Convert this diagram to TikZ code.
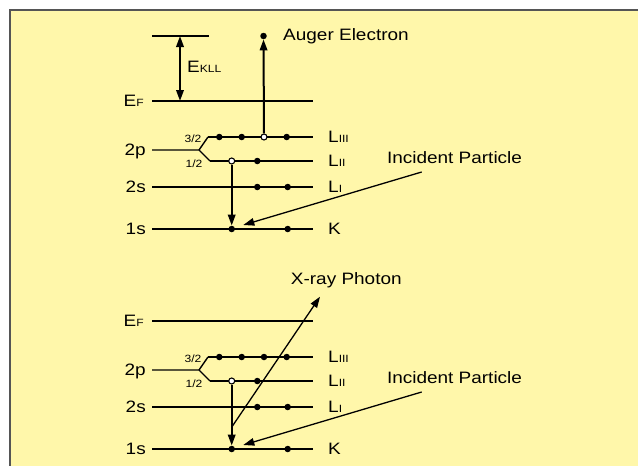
\documentclass[tikz,border=0pt]{standalone}
\usepackage{fontspec}
\setmainfont{Liberation Sans}
\usetikzlibrary{arrows.meta}
\definecolor{bgyellow}{RGB}{255,247,170}
\definecolor{framegray}{RGB}{85,85,85}
\newcommand\smf{\fontsize{10.5}{12}\selectfont}
\tikzset{
 lvl/.style={line width=2pt},
 thinlvl/.style={line width=1.4pt},
 dotf/.style={circle,fill=black,inner sep=0pt,minimum size=6.5pt},
 doth/.style={circle,fill=white,draw=black,line width=1.1pt,inner sep=0pt,minimum size=6pt},
 arr/.style={line width=2pt,-{Triangle[length=11pt,width=7.5pt]}},
 thinarr/.style={line width=1.3pt,-{Triangle[length=11pt,width=7.5pt]}},
 txt/.style={inner sep=0pt,font=\fontsize{16.5}{18}\selectfont,xscale=1.15},
 smtxt/.style={inner sep=0pt,font=\smf,xscale=1.15},
}
\newcommand\energylevels[1]{%
 \draw[lvl] (152,101) -- (313,101);
 \node[txt,anchor=base east] (ef) at (144,106.8) {E{\smf F}};
 \draw[thinlvl] (152,150) -- (199,150) -- (208,137);
 \draw[thinlvl] (199,150) -- (210,161);
 \draw[lvl] (208,137) -- (313,137);
 \draw[lvl] (210,161) -- (313,161);
 \draw[lvl] (152,187) -- (313,187);
 \draw[lvl] (152,229) -- (313,229);
 \node[txt,anchor=base east] (p2) at (146,155.8) {2p};
 \node[txt,anchor=base east] (s2) at (146,192.8) {2s};
 \node[txt,anchor=base east] (s1) at (146,234.8) {1s};
 \node[smtxt] (j32) at (193,138.3) {3/2};
 \node[smtxt] (j12) at (194,164) {1/2};
 \node[txt,anchor=base west] (lab3) at (328,142.8) {L{\smf III}};
 \node[txt,anchor=base west] (lab2) at (328,166.8) {L{\smf II}};
 \node[txt,anchor=base west] (lab1) at (328,192.8) {L{\smf I}};
 \node[txt,anchor=base west] (labk) at (328,234.8) {K};
 \node[dotf] (l3a) at (219.3,137) {};
 \node[dotf] (l3b) at (241.7,137) {};
 \node[#1] (l3c) at (264,137) {};
 \node[dotf] (l3d) at (286.7,137) {};
 \node[doth] (l2a) at (231.7,161) {};
 \node[dotf] (l2b) at (257.3,161) {};
 \node[dotf] (l1a) at (257.3,187) {};
 \node[dotf] (l1b) at (287.7,187) {};
 \node[dotf] (ka) at (231.7,229) {};
 \node[dotf] (kb) at (287.7,229) {};
 \draw[arr] (l2a) -- (ka);
 \node[txt] (inc) at (454.5,158) {Incident Particle};
 \coordinate (incs) at (421.7,172);
 \coordinate (inct) at (243.3,225);
 \draw[thinarr] (incs) -- (inct);
}
\begin{document}
\begin{tikzpicture}[x=1pt,y=-1pt]
\useasboundingbox (0,0) rectangle (638,466);
\clip (0,0) rectangle (638,466);
\fill[white] (0,0) rectangle (638,466);
\filldraw[fill=bgyellow,draw=framegray,line width=2pt] (10,10) rectangle (660,490);
\begin{scope}[name prefix=t-]
 \energylevels{doth}
 \draw[lvl] (152,36) -- (209,36);
 \coordinate (etop) at (180,36);
 \coordinate (ebot) at (180,101);
 \draw[line width=2pt,{Triangle[length=11pt,width=7.5pt]}-{Triangle[length=11pt,width=7.5pt]}] (etop) -- (ebot);
 \node[txt,anchor=west] (ekll) at (187,66.7) {E{\smf KLL}};
 \node[dotf] (auger) at (263.5,36) {};
 \node[txt,anchor=west] (augerlbl) at (283,36) {Auger Electron};
 \draw[arr] (l3c) -- (auger);
\end{scope}
\begin{scope}[yshift=-220pt,name prefix=b-]
 \energylevels{dotf}
 \coordinate (xs) at (232,206.7);
 \coordinate (xt) at (320,76.7);
 \draw[thinarr] (xs) -- (xt);
 \node[txt,anchor=west] (xlbl) at (290.7,60.7) {X-ray Photon};
\end{scope}
\end{tikzpicture}
\end{document}
